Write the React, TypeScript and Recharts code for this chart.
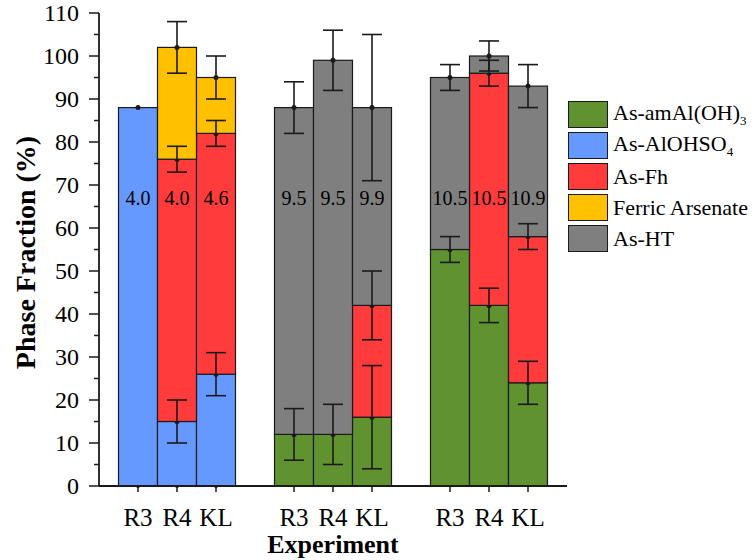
import { ComposedChart, Bar, Line, XAxis, YAxis, ErrorBar, LabelList } from 'recharts'

// slot layout: three reactor groups with an empty slot between groups
const SLOTS = ['R3', 'R4', 'KL', '', 'R3', 'R4', 'KL', '', 'R3', 'R4', 'KL']
const PH = ['4.0', '4.0', '4.6', '', '9.5', '9.5', '9.9', '', '10.5', '10.5', '10.9']

// phase fractions (%) and their errors, stacked bottom to top
const AM_AL = [0, 0, 0, null, 12, 12, 16, null, 55, 42, 24]
const AM_AL_ERR = [0, 0, 0, null, 6, 7, 12, null, 3, 4, 5]
const ALOHSO4 = [88, 15, 26, null, 0, 0, 0, null, 0, 0, 0]
const ALOHSO4_ERR = [0, 5, 5, null, 0, 0, 0, null, 0, 0, 0]
const FH = [0, 61, 56, null, 0, 0, 26, null, 0, 54, 34]
const FH_ERR = [0, 3, 3, null, 0, 0, 8, null, 0, 3, 3]
const FA = [0, 26, 13, null, 0, 0, 0, null, 0, 0, 0]
const FA_ERR = [0, 6, 5, null, 0, 0, 0, null, 0, 0, 0]
const HT = [0, 0, 0, null, 76, 87, 46, null, 40, 4, 35]
const HT_ERR = [0, 0, 0, null, 6, 7, 17, null, 3, 3.5, 5]

const Y_TICKS = [0, 5, 10, 15, 20, 25, 30, 35, 40, 45, 50, 55, 60, 65, 70, 75, 80, 85, 90, 95, 100, 105, 110]
const PH_LABEL_AT = 67

const SERIES = [
  { key: 'amAl', name: 'As-amAl(OH)', sub: '3', color: '#609230', values: AM_AL, errors: AM_AL_ERR },
  { key: 'alohso4', name: 'As-AlOHSO', sub: '4', color: '#6699ff', values: ALOHSO4, errors: ALOHSO4_ERR },
  { key: 'fh', name: 'As-Fh', sub: '', color: '#ff3b3b', values: FH, errors: FH_ERR },
  { key: 'fa', name: 'Ferric Arsenate', sub: '', color: '#ffc000', values: FA, errors: FA_ERR },
  { key: 'ht', name: 'As-HT', sub: '', color: '#7f7f7f', values: HT, errors: HT_ERR },
]

const rows = SLOTS.map((name, i) => {
  const row: Record<string, any> = { slot: `s${i}`, name, ph: PH[i] || null }
  SERIES.forEach((s) => {
    row[s.key] = s.values[i]
    row[s.key + 'Err'] = s.errors[i]
  })
  return row
})

const FONT = 'Liberation Serif'
const INK = '#1a1a1a'

// stacked segment with the mean marker at its top; the base series also
// marks a zero reading on the axis
function Segment(props: any) {
  const { x, y, width, height, fill, zeroDot, payload, dataKey } = props
  if (!height || height <= 0) {
    if (zeroDot && payload && payload[dataKey] === 0) {
      return <circle cx={x + width / 2} cy={y} r={2} fill={INK} />
    }
    return null
  }
  return (
    <g>
      <rect x={x} y={y} width={width} height={height} fill={fill} stroke={INK} strokeWidth={1.2} />
      <circle cx={x + width / 2} cy={y} r={2.5} fill={INK} />
    </g>
  )
}

function YTick(props: any) {
  const { x, y, payload } = props
  const major = payload.value % 10 === 0
  return (
    <g>
      <line x1={x} x2={x - (major ? 10 : 5)} y1={y} y2={y} stroke={INK} strokeWidth={1.5} />
      {major && (
        <text x={x - 20} y={y} dy="0.35em" textAnchor="end" fontSize={24} fill="#000" fontFamily={FONT}>
          {payload.value}
        </text>
      )}
    </g>
  )
}

function XTick(props: any) {
  const { x, y, payload } = props
  const label = SLOTS[payload.index]
  if (!label) return null
  return (
    <g>
      <line x1={x} x2={x} y1={y} y2={y + 6} stroke={INK} strokeWidth={1.5} />
      <text x={x} y={y + 40} textAnchor="middle" fontSize={25} fill="#000" fontFamily={FONT}>
        {label}
      </text>
    </g>
  )
}

function YTitle(props: any) {
  const { viewBox } = props
  const cx = viewBox.x + 25
  const cy = viewBox.y + viewBox.height / 2 + 3
  return (
    <text
      x={cx}
      y={cy}
      transform={`rotate(-90 ${cx} ${cy})`}
      textAnchor="middle"
      dy="0.35em"
      fontSize={28}
      fontWeight="bold"
      fill="#000"
      fontFamily={FONT}
    >
      Phase Fraction (%)
    </text>
  )
}

function XTitle(props: any) {
  const { viewBox } = props
  return (
    <text
      x={viewBox.x + viewBox.width / 2}
      y={553}
      textAnchor="middle"
      fontSize={26}
      fontWeight="bold"
      fill="#000"
      fontFamily={FONT}
    >
      Experiment
    </text>
  )
}

function PhaseLegend() {
  return (
    <div style={{ position: 'absolute', left: 568, top: 99, fontFamily: FONT, fontSize: 22, color: '#000' }}>
      {SERIES.map((s) => (
        <div key={s.key} style={{ display: 'flex', alignItems: 'center', height: 31 }}>
          <div
            style={{
              width: 38,
              height: 25,
              background: s.color,
              border: `1.5px solid ${INK}`,
              marginRight: 5,
            }}
          />
          <span style={{ whiteSpace: 'nowrap' }}>
            {s.name}
            {s.sub && <sub style={{ fontSize: 13 }}>{s.sub}</sub>}
          </span>
        </div>
      ))}
    </div>
  )
}

export default function App() {
  return (
    <div style={{ position: 'absolute', left: 0, top: 0, width: 752, height: 560, background: '#fff', fontFamily: FONT }}>
      <ComposedChart
        width={752}
        height={560}
        data={rows}
        margin={{ top: 13, right: 185, bottom: 44, left: 0 }}
        barCategoryGap={0}
        barGap={0}
        style={{ fontFamily: FONT }}
      >
        <XAxis
          dataKey="slot"
          height={30}
          padding={{ left: 19.5, right: 19.5 }}
          axisLine={{ stroke: INK, strokeWidth: 1.8 }}
          tickLine={false}
          tickSize={0}
          tickMargin={0}
          interval={0}
          tick={<XTick />}
          label={<XTitle />}
        />
        <YAxis
          width={99}
          domain={[0, 110]}
          ticks={Y_TICKS}
          interval={0}
          axisLine={{ stroke: INK, strokeWidth: 1.8 }}
          tickLine={false}
          tickSize={0}
          tickMargin={0}
          tick={<YTick />}
          label={<YTitle />}
        />
        {SERIES.map((s) => (
          <Bar
            key={s.key}
            dataKey={s.key}
            stackId="phase"
            fill={s.color}
            shape={<Segment zeroDot={s.key === 'amAl'} />}
            isAnimationActive={false}
          >
            <ErrorBar dataKey={s.key + 'Err'} width={10} stroke={INK} strokeWidth={1.6} direction="y" />
          </Bar>
        ))}
        <Line
          dataKey={(r: any) => (r.ph ? PH_LABEL_AT : null)}
          stroke="none"
          dot={false}
          activeDot={false}
          legendType="none"
          isAnimationActive={false}
        >
          <LabelList dataKey="ph" position="center" fontSize={20} fill="#000" fontFamily={FONT} />
        </Line>
      </ComposedChart>
      <PhaseLegend />
    </div>
  )
}
